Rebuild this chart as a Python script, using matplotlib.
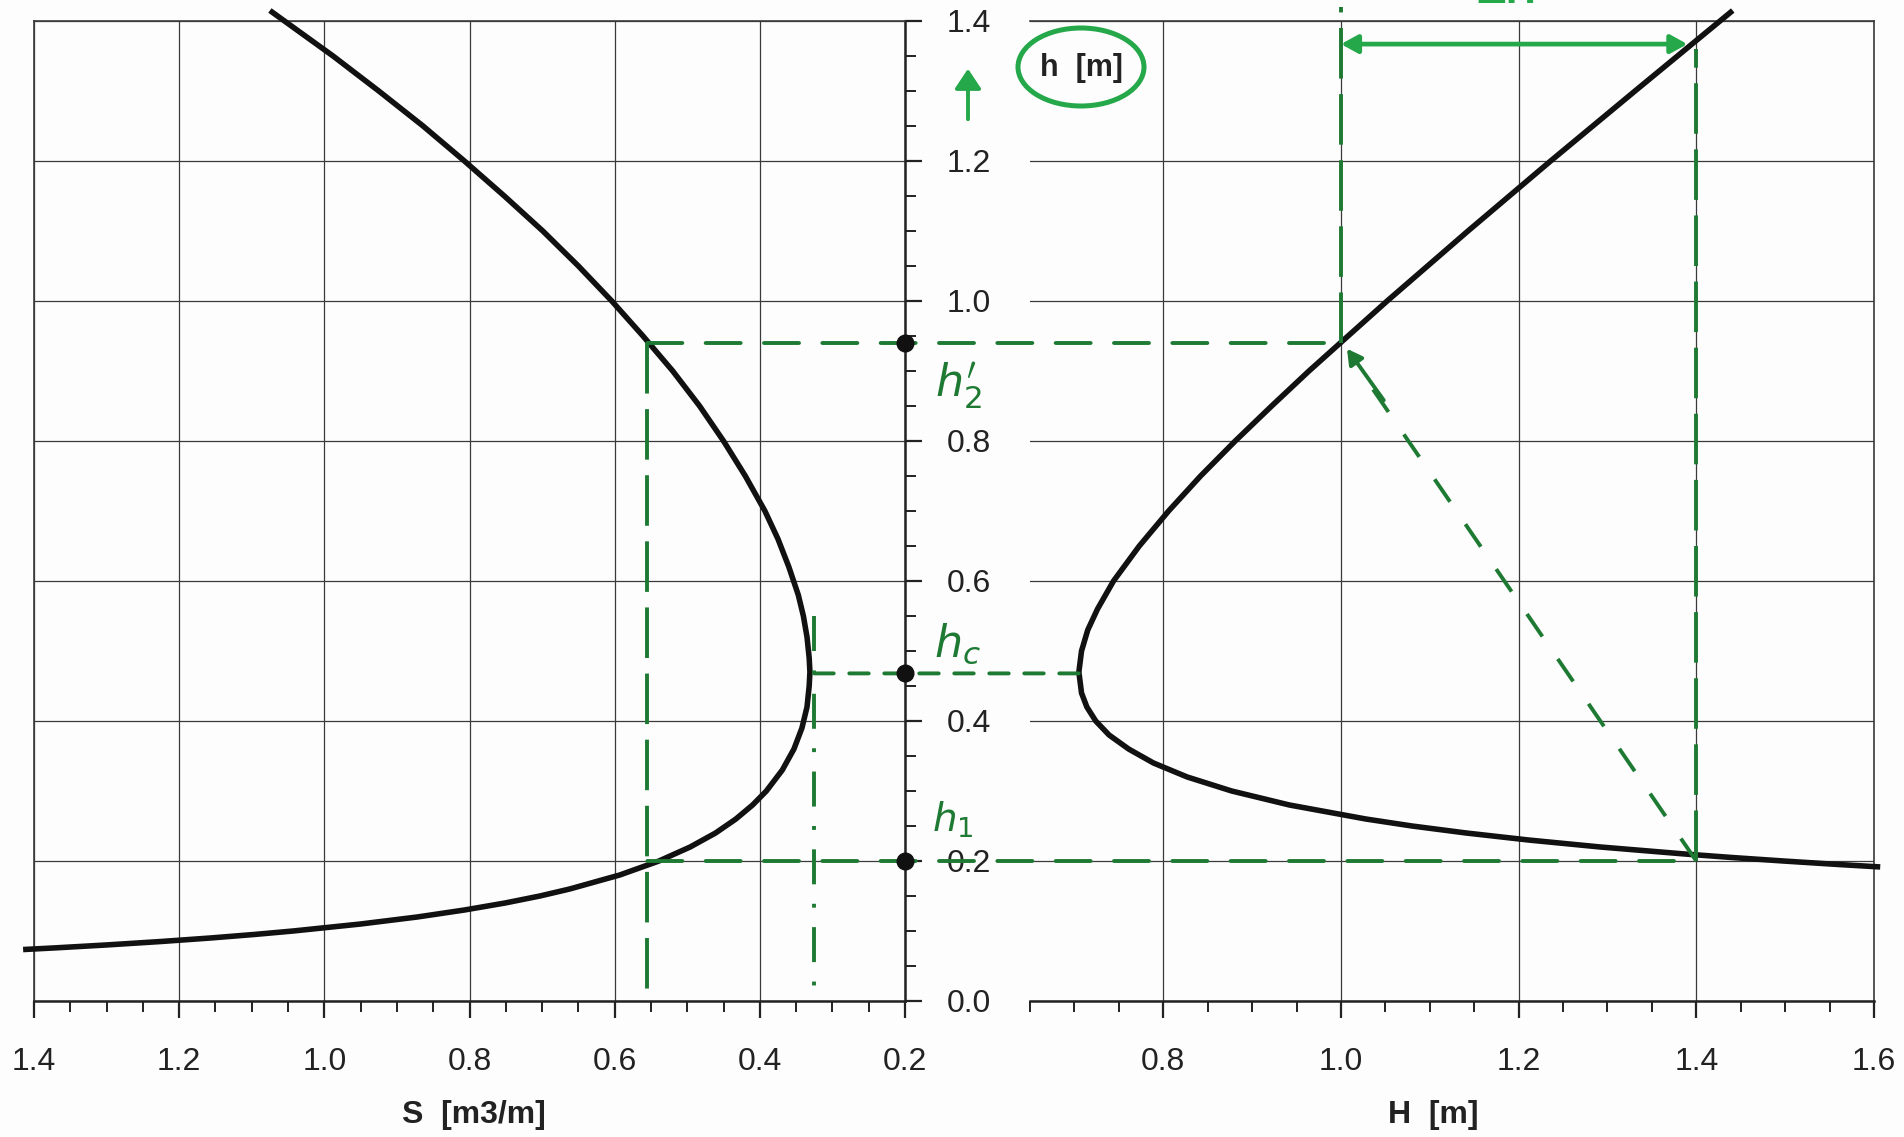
import matplotlib
matplotlib.use("Agg")
import matplotlib.pyplot as plt
from matplotlib.patches import ConnectionPatch, Ellipse, FancyArrowPatch
from matplotlib.lines import Line2D
from matplotlib.ticker import MultipleLocator, FormatStrFormatter

# ---------------- data ----------------
# left panel: specific force S [m3/m] versus depth h [m]
h_left = [0.0735, 0.076, 0.08, 0.085, 0.09, 0.095, 0.10, 0.11, 0.12, 0.13, 0.14,
          0.15, 0.16, 0.18, 0.20, 0.22, 0.24, 0.26, 0.28, 0.30, 0.33, 0.36, 0.39,
          0.42, 0.45, 0.47, 0.49, 0.52, 0.55, 0.58, 0.62, 0.66, 0.70, 0.75, 0.80,
          0.85, 0.90, 0.95, 1.00, 1.05, 1.10, 1.15, 1.20, 1.25, 1.30, 1.35, 1.415]
S_vals = [1.415, 1.369, 1.301, 1.225, 1.157, 1.097, 1.043, 0.950, 0.872, 0.807, 0.751,
          0.703, 0.662, 0.593, 0.539, 0.496, 0.461, 0.433, 0.410, 0.391, 0.369, 0.353, 0.342,
          0.335, 0.332, 0.331, 0.332, 0.335, 0.340, 0.347, 0.360, 0.375, 0.393, 0.420, 0.450,
          0.483, 0.520, 0.561, 0.604, 0.650, 0.699, 0.752, 0.807, 0.864, 0.925, 0.988, 1.075]

# right panel: energy head H [m] versus depth h [m]
h_right = [0.1915, 0.195, 0.20, 0.205, 0.21, 0.22, 0.23, 0.24, 0.25, 0.26, 0.28, 0.30,
           0.32, 0.34, 0.36, 0.38, 0.40, 0.42, 0.44, 0.47, 0.50, 0.53, 0.56, 0.60,
           0.65, 0.70, 0.75, 0.80, 0.85, 0.90, 0.95, 1.00, 1.10, 1.20, 1.30, 1.415]
H_vals = [1.607, 1.560, 1.498, 1.440, 1.387, 1.292, 1.211, 1.141, 1.080, 1.028, 0.942, 0.877,
          0.827, 0.789, 0.761, 0.739, 0.724, 0.714, 0.708, 0.705, 0.708, 0.715, 0.726, 0.744,
          0.773, 0.806, 0.842, 0.881, 0.922, 0.964, 1.008, 1.052, 1.143, 1.236, 1.331, 1.441]

# hand-drawn construction values
h2p, hc, h1 = 0.94, 0.468, 0.20        # marked depths
S_conj, S_min = 0.555, 0.325           # S values of verticals
H_a, H_b, H_min = 1.0, 1.4, 0.705      # H values of verticals / minimum
h_dH = 1.367                           # level of the Delta-H arrow

S_ticks = [1.4, 1.2, 1.0, 0.8, 0.6, 0.4, 0.2]
H_ticks = [0.8, 1.0, 1.2, 1.4, 1.6]
h_ticks = [0.0, 0.2, 0.4, 0.6, 0.8, 1.0, 1.2, 1.4]

# ---------------- figure ----------------
W, Hpx = 1904, 1137
plt.rcParams['font.family'] = ['Liberation Sans', 'DejaVu Sans']
fig = plt.figure(figsize=(W / 100, Hpx / 100), dpi=100)
fig.patch.set_facecolor('#fdfdfd')

y0, y1 = 1001, 21
axL = fig.add_axes([34 / W, 1 - y0 / Hpx, (905 - 34) / W, (y0 - y1) / Hpx])
axR = fig.add_axes([1030 / W, 1 - y0 / Hpx, (1874 - 1030) / W, (y0 - y1) / Hpx])

grid_c = '#3a3a3a'
tick_fs = 23
for ax in (axL, axR):
    ax.set_facecolor('none')
    ax.set_ylim(0, 1.4)
    ax.grid(True, which='major', color=grid_c, lw=0.9)
    ax.set_axisbelow(True)
    ax.spines['bottom'].set_linewidth(1.8)
    ax.spines['bottom'].set_color('#222222')
    ax.spines['top'].set_linewidth(1.2)
    ax.spines['top'].set_color(grid_c)
    ax.xaxis.set_minor_locator(MultipleLocator(0.05))
    ax.tick_params(axis='x', which='major', direction='out', length=12, width=1.6,
                   labelsize=tick_fs, pad=21, colors='#222222')
    ax.tick_params(axis='x', which='minor', direction='out', length=8, width=1.4,
                   colors='#222222')
    ax.xaxis.set_major_formatter(FormatStrFormatter('%.1f'))

# left panel
axL.set_xlim(1.4, 0.2)
axL.set_xticks(S_ticks)
axL.set_yticks(h_ticks)
axL.yaxis.set_minor_locator(MultipleLocator(0.05))
axL.yaxis.tick_right()
axL.yaxis.set_major_formatter(FormatStrFormatter('%.1f'))
axL.tick_params(axis='y', which='major', direction='out', length=12, width=1.6,
                labelsize=tick_fs, pad=18, colors='#222222')
axL.tick_params(axis='y', which='minor', direction='out', length=8, width=1.4,
                colors='#222222')
axL.spines['right'].set_linewidth(1.8)
axL.spines['right'].set_color('#222222')
axL.spines['left'].set_linewidth(1.2)
axL.spines['left'].set_color(grid_c)

# right panel
axR.set_xlim(0.65, 1.6)
axR.set_xticks(H_ticks)
axR.set_yticks(h_ticks)
axR.tick_params(axis='y', which='both', left=False, right=False,
                labelleft=False, labelright=False)
axR.spines['left'].set_visible(False)
axR.spines['right'].set_linewidth(1.2)
axR.spines['right'].set_color(grid_c)

# curves
axL.plot(S_vals, h_left, color='#111111', lw=4.0, clip_on=False, zorder=5,
         solid_capstyle='butt')
axR.plot(H_vals, h_right, color='#111111', lw=4.0, clip_on=False, zorder=5,
         solid_capstyle='butt')

# axis titles
fig.text(474 / W, 1 - 1115 / Hpx, 'S  [m3/m]', ha='center', va='center',
         fontsize=23, fontweight='bold', color='#222222')
fig.text(1433 / W, 1 - 1115 / Hpx, 'H  [m]', ha='center', va='center',
         fontsize=23, fontweight='bold', color='#222222')
fig.text(1081 / W, 1 - 68 / Hpx, 'h  [m]', ha='center', va='center',
         fontsize=22, fontweight='bold', color='#222222')

# ---------------- green hand annotations ----------------
gd = '#1e7a33'   # dark green dashes
gb = '#25a84a'   # bright green marker pen
dash_h = (0, (9, 6))
dash_v = (0, (13, 4))

def conn(xa, ya, xb, yb, ls, lw=2.8):
    cp = ConnectionPatch(xyA=(xa, ya), coordsA=axL.transData,
                         xyB=(xb, yb), coordsB=axR.transData,
                         color=gd, lw=lw, linestyle=ls, zorder=6)
    fig.add_artist(cp)

conn(S_conj, h2p, H_a, h2p, dash_h)
conn(S_min, hc, H_min, hc, (0, (5, 4)))
conn(S_conj, h1, H_b, h1, dash_h)

axL.plot([S_conj, S_conj], [h2p, 0.0], color=gd, lw=2.8, linestyle=dash_v,
         clip_on=False, zorder=6)
axL.plot([S_min, S_min], [0.55, 0.0], color=gd, lw=2.8,
         linestyle=(0, (9, 5, 1, 5)), clip_on=False, zorder=6)

axR.plot([H_a, H_a], [h2p, 1.42], color=gd, lw=2.8, linestyle=dash_v,
         clip_on=False, zorder=6)
axR.plot([H_b, H_b], [h1, 1.36], color=gd, lw=2.8, linestyle=dash_v,
         clip_on=False, zorder=6)
axR.plot([H_b, H_a + 0.03], [h1, h2p - 0.055], color=gd, lw=2.8,
         linestyle=(0, (7, 7)), clip_on=False, zorder=6)
axR.annotate('', xy=(H_a + 0.005, h2p - 0.005), xytext=(H_a + 0.05, h2p - 0.085),
             arrowprops=dict(arrowstyle='-|>,head_length=0.9,head_width=0.5',
                             color=gd, lw=2.8), zorder=7, annotation_clip=False)

# Delta-H double arrow
axR.annotate('', xy=(H_a, h_dH), xytext=(1.39, h_dH),
             arrowprops=dict(arrowstyle='<|-|>,head_length=1.0,head_width=0.55',
                             color=gb, lw=3.4, shrinkA=0, shrinkB=0),
             zorder=7, annotation_clip=False)
fig.text(1506 / W, 1 - 12 / Hpx, 'ΔH', ha='center', va='bottom', fontsize=30,
         fontweight='bold', color=gb)

# dots on the central axis (drawn above the connecting dashes)
for hv in (h2p, hc, h1):
    dot = Line2D([0.2], [hv], marker='o', color='#111111', ms=12, linestyle='none',
                 transform=axL.transData, zorder=9)
    fig.add_artist(dot)

# handwritten depth labels
fig.text(958 / W, 1 - 386 / Hpx, r"$h_2'$", ha='center', va='center',
         fontsize=32, color=gd, fontweight='bold')
fig.text(957 / W, 1 - 644 / Hpx, r"$h_c$", ha='center', va='center',
         fontsize=32, color=gd)
fig.text(953 / W, 1 - 820 / Hpx, r"$h_1$", ha='center', va='center',
         fontsize=28, color=gd)

# ellipse around "h [m]" and upward arrow
fig.add_artist(Ellipse((1081 / W, 1 - 67 / Hpx), 126 / W, 78 / Hpx,
                       transform=fig.transFigure, fill=False, ec=gb, lw=3.6))
fig.add_artist(FancyArrowPatch(
    (968 / W, 1 - 122 / Hpx), (968 / W, 1 - 66 / Hpx), transform=fig.transFigure,
    arrowstyle='-|>,head_length=6,head_width=4', color=gb, lw=2.8,
    mutation_scale=2))

fig.savefig('out.png', dpi=100, facecolor=fig.get_facecolor())
